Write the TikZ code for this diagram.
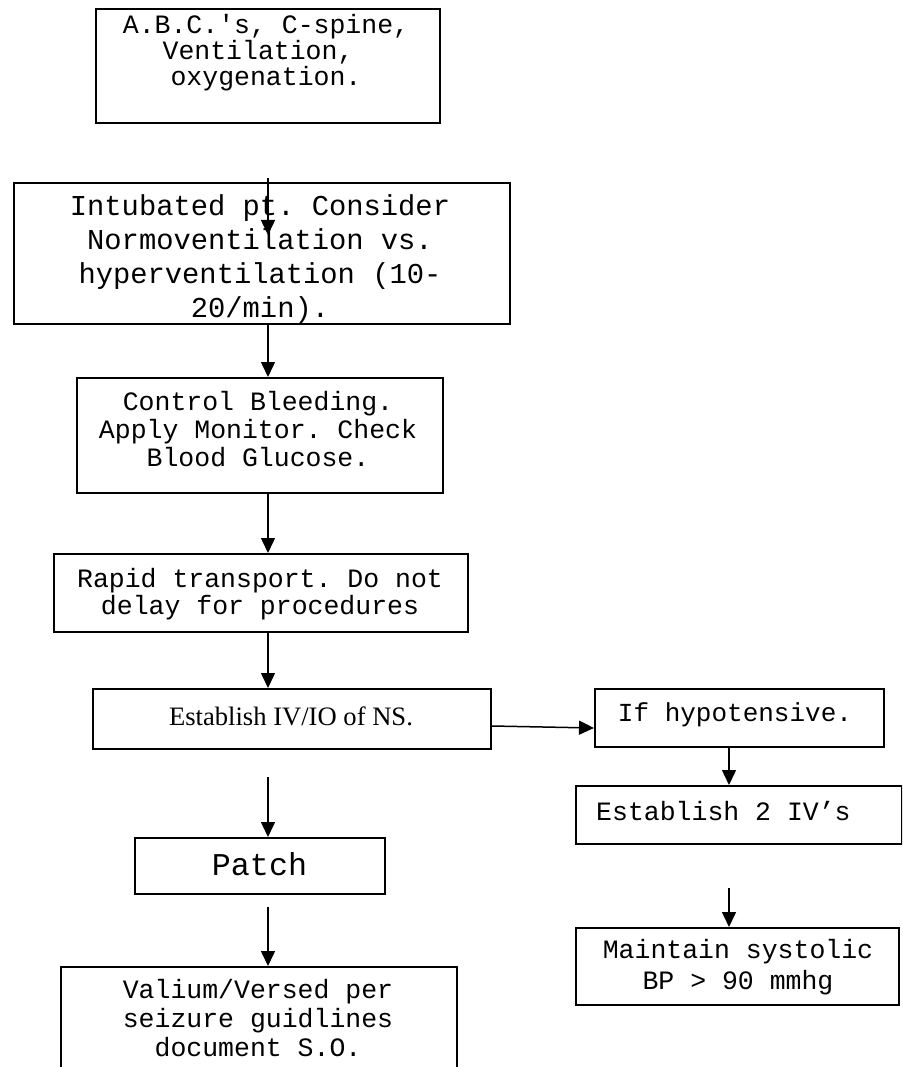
\documentclass[tikz,border=0pt]{standalone}
\usepackage{fontspec}
\setmonofont{Liberation Mono}
\newfontfamily\romanfont{Liberation Serif}
\usetikzlibrary{arrows.meta}
\begin{document}
\begin{tikzpicture}[x=1pt,y=-1pt,
  stepbox/.style={draw=black,line width=2pt,rectangle,inner sep=0pt,anchor=north west},
  txt/.style={inner sep=0pt,align=center,anchor=base},
  arr/.style={line width=1.5pt,-{Triangle[width=14pt,length=15pt]}}]
\useasboundingbox (0,0) rectangle (902,1067);
\clip (0,0) rectangle (902,1067);
\fill[white] (0,0) rectangle (902,1067);

% spines of the two columns
\coordinate (spine) at (268,0);
\coordinate (rspine) at (729,0);

% boxes (top-left corner, size)
\node[stepbox,minimum width=344pt,minimum height=114pt] (b1) at (95,8) {};
\node[stepbox,minimum width=496pt,minimum height=141pt] (b2) at (13,182) {};
\node[stepbox,minimum width=366pt,minimum height=115pt] (b3) at (76,377) {};
\node[stepbox,minimum width=414pt,minimum height=78pt] (b4) at (53,553) {};
\node[stepbox,minimum width=398pt,minimum height=60pt] (b5) at (92,688) {};
\node[stepbox,minimum width=289pt,minimum height=58pt] (b6) at (594,688) {};
\node[stepbox,minimum width=326pt,minimum height=58pt] (b7) at (575,785) {};
\node[stepbox,minimum width=323pt,minimum height=77pt] (b8) at (575,927) {};
\node[stepbox,minimum width=250pt,minimum height=56pt] (b9) at (134,837) {};
\node[stepbox,minimum width=396pt,minimum height=140pt] (b10) at (60,966) {};

% texts (placed by the baseline of their last line)
\node[txt,font=\ttfamily\fontsize{26.5pt}{26pt}\selectfont] (t1) at (266,86)
  {A.B.C.'s, C-spine,\\Ventilation,\hphantom{x}\\oxygenation.};
\node[txt,font=\ttfamily\fontsize{28.8pt}{34pt}\selectfont] (t2) at (260,317)
  {Intubated pt. Consider\\Normoventilation vs.\\hyperventilation (10-\\20/min).};
\node[txt,font=\ttfamily\fontsize{26.5pt}{28pt}\selectfont] (t3) at (258,466)
  {Control Bleeding.\\Apply Monitor. Check\\Blood Glucose.};
\node[txt,font=\ttfamily\fontsize{26.5pt}{26.5pt}\selectfont] (t4) at (260,614)
  {Rapid transport. Do not\\delay for procedures};
\node[txt,font=\romanfont\fontsize{26.6pt}{30pt}\selectfont] (t5) at (291,725)
  {Establish IV/IO of NS.};
\node[txt,font=\ttfamily\fontsize{26pt}{30pt}\selectfont] (t6) at (735,721)
  {If hypotensive.};
\node[txt,anchor=base west,font=\ttfamily\fontsize{26.5pt}{30pt}\selectfont] (t7) at (596,820)
  {Establish 2 IV’s};
\node[txt,font=\ttfamily\fontsize{26.5pt}{31pt}\selectfont] (t8) at (738,989)
  {Maintain systolic\\BP > 90 mmhg};
\node[txt,font=\ttfamily\fontsize{31.7pt}{34pt}\selectfont] (t9) at (259.5,875)
  {Patch};
\node[txt,font=\ttfamily\fontsize{26.5pt}{29pt}\selectfont] (t10) at (258,1056)
  {Valium/Versed per\\seizure guidlines\\document S.O.};

% connectors
\coordinate (a1s) at (268,178);
\coordinate (a1e) at (268,235);
\draw[arr] (a1s) -- (a1e);
\draw[arr] (b2.south -| spine) -- (b3.north -| spine);
\draw[arr] (b3.south -| spine) -- (b4.north -| spine);
\draw[arr] (b4.south -| spine) -- (b5.north -| spine);
\draw[arr] ([yshift=-7pt]b5.east) -- ([yshift=-10pt]b6.west);
\draw[arr] (b6.south -| rspine) -- (b7.north -| rspine);
\coordinate (a7s) at (729,888);
\draw[arr] (a7s) -- (b8.north -| rspine);
\coordinate (a8s) at (268,777);
\draw[arr] (a8s) -- (b9.north -| spine);
\coordinate (a9s) at (268,907);
\draw[arr] (a9s) -- (b10.north -| spine);
\end{tikzpicture}
\end{document}
